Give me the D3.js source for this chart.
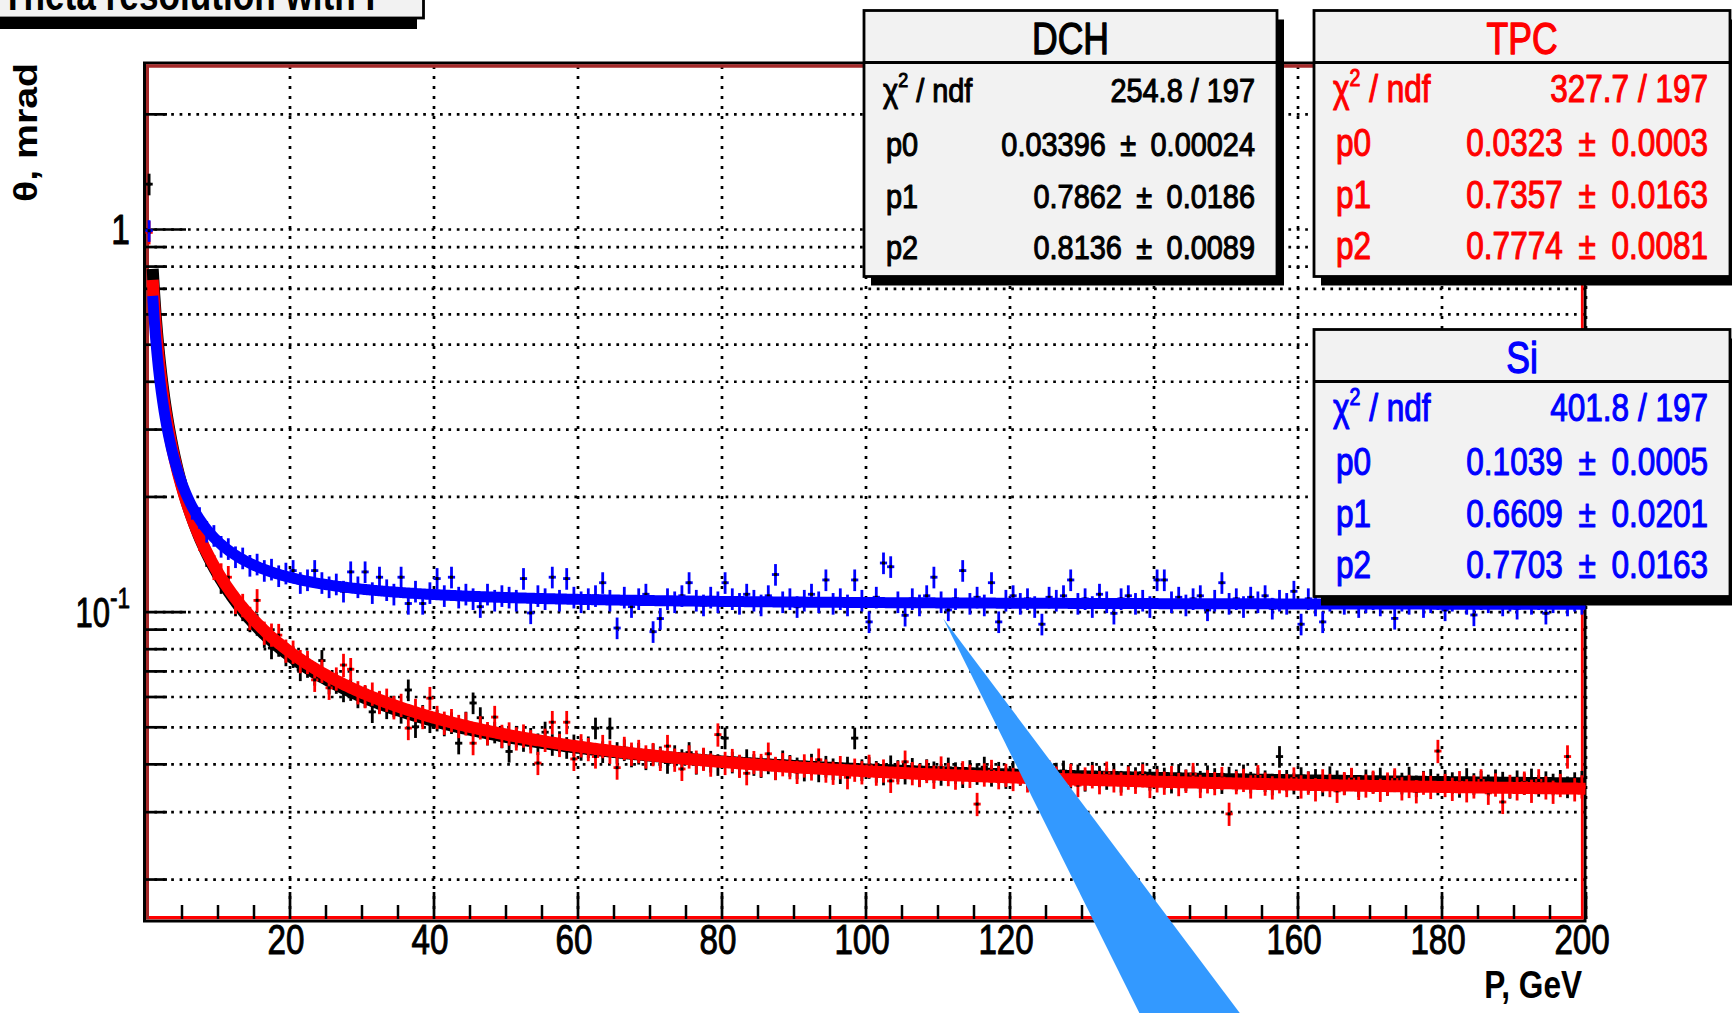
<!DOCTYPE html>
<html>
<head>
<meta charset="utf-8">
<script src="https://cdn.jsdelivr.net/npm/d3@7"></script>
<style>
  html, body { margin: 0; padding: 0; background: #ffffff; overflow: hidden; }
  svg { display: block; }
</style>
</head>
<body>
<svg id="chart" width="1732" height="1013"></svg>
<script>
// ---------------- data ----------------
// Histogram binning in momentum P (GeV): 200 bins of 1 GeV from 0 to 200
const binRange = [0, 200];
const binCount = 200;
const binCentres = d3.range(binCount).map(i => binRange[0] + (i + 0.5) * (binRange[1] - binRange[0]) / binCount);

// Polar-angle resolution per bin, mrad
const dchTheta = [
  1.31, 0.575, 0.370, 0.290, 0.232, 0.201, 0.173, 0.158, 0.140, 0.132,
  0.119, 0.115, 0.104, 0.101, 0.0945, 0.0925, 0.0860, 0.0803, 0.0815, 0.0770,
  0.0762, 0.0704, 0.0718, 0.0685, 0.0745, 0.0650, 0.0652, 0.0620, 0.0625, 0.0598,
  0.0600, 0.0547, 0.0580, 0.0560, 0.0566, 0.0545, 0.0624, 0.0500, 0.0535, 0.0515,
  0.0520, 0.0505, 0.0512, 0.0453, 0.0514, 0.0577, 0.0528, 0.0478, 0.0484, 0.0470,
  0.0431, 0.0472, 0.0460, 0.0466, 0.0451, 0.0484, 0.0449, 0.0457, 0.0441, 0.0448,
  0.0436, 0.0443, 0.0496, 0.0430, 0.0496, 0.0428, 0.0435, 0.0419, 0.0426, 0.0412,
  0.0424, 0.0417, 0.0403, 0.0420, 0.0410, 0.0428, 0.0401, 0.0412, 0.0406, 0.0398,
  0.0467, 0.0404, 0.0395, 0.0410, 0.0398, 0.0393, 0.0402, 0.0388, 0.0407, 0.0396,
  0.0390, 0.0385, 0.0399, 0.0383, 0.0394, 0.0388, 0.0379, 0.0392, 0.0467, 0.0386,
  0.0391, 0.0382, 0.0376, 0.0395, 0.0384, 0.0378, 0.0389, 0.0372, 0.0386, 0.0381,
  0.0375, 0.0390, 0.0379, 0.0370, 0.0384, 0.0377, 0.0392, 0.0373, 0.0380, 0.0368,
  0.0382, 0.0375, 0.0370, 0.0385, 0.0372, 0.0365, 0.0378, 0.0383, 0.0369, 0.0374,
  0.0362, 0.0380, 0.0371, 0.0366, 0.0377, 0.0360, 0.0373, 0.0368, 0.0379, 0.0364,
  0.0371, 0.0367, 0.0358, 0.0375, 0.0363, 0.0370, 0.0360, 0.0372, 0.0366, 0.0357,
  0.0369, 0.0363, 0.0374, 0.0358, 0.0367, 0.0361, 0.0354, 0.0418, 0.0362, 0.0356,
  0.0368, 0.0359, 0.0364, 0.0352, 0.0370, 0.0361, 0.0355, 0.0366, 0.0350, 0.0363,
  0.0358, 0.0367, 0.0353, 0.0361, 0.0356, 0.0369, 0.0350, 0.0360, 0.0364, 0.0354,
  0.0362, 0.0357, 0.0349, 0.0366, 0.0355, 0.0360, 0.0352, 0.0363, 0.0358, 0.0347,
  0.0361, 0.0355, 0.0365, 0.0351, 0.0359, 0.0354, 0.0362, 0.0348, 0.0357, 0.0360
];

const tpcTheta = [
  0.98, 0.54, 0.365, 0.277, 0.233, 0.196, 0.176, 0.155, 0.145, 0.130,
  0.125, 0.123, 0.106, 0.104, 0.0962, 0.107, 0.0880, 0.0870, 0.0868, 0.0790,
  0.0785, 0.0742, 0.0738, 0.0663, 0.0700, 0.0632, 0.0668, 0.0725, 0.0707, 0.0615,
  0.0601, 0.0610, 0.0580, 0.0588, 0.0562, 0.0570, 0.0496, 0.0553, 0.0530, 0.0594,
  0.0530, 0.0512, 0.0520, 0.0502, 0.0510, 0.0453, 0.0498, 0.0481, 0.0530, 0.0473,
  0.0480, 0.0466, 0.0474, 0.0458, 0.0402, 0.0462, 0.0514, 0.0448, 0.0514, 0.0412,
  0.0447, 0.0437, 0.0418, 0.0445, 0.0430, 0.0391, 0.0440, 0.0425, 0.0432, 0.0418,
  0.0424, 0.0412, 0.0445, 0.0410, 0.0388, 0.0418, 0.0405, 0.0412, 0.0398, 0.0477,
  0.0402, 0.0409, 0.0395, 0.0378, 0.0404, 0.0397, 0.0425, 0.0390, 0.0399, 0.0392,
  0.0381, 0.0396, 0.0389, 0.0410, 0.0384, 0.0379, 0.0392, 0.0369, 0.0386, 0.0380,
  0.0395, 0.0377, 0.0384, 0.0361, 0.0380, 0.0405, 0.0378, 0.0374, 0.0383, 0.0370,
  0.0391, 0.0376, 0.0368, 0.0380, 0.0372, 0.0314, 0.0375, 0.0383, 0.0369, 0.0374,
  0.0365, 0.0378, 0.0362, 0.0371, 0.0356, 0.0382, 0.0368, 0.0360, 0.0374, 0.0352,
  0.0366, 0.0371, 0.0358, 0.0379, 0.0362, 0.0355, 0.0368, 0.0359, 0.0373, 0.0350,
  0.0362, 0.0357, 0.0369, 0.0354, 0.0361, 0.0376, 0.0350, 0.0360, 0.0356, 0.0367,
  0.0296, 0.0358, 0.0363, 0.0349, 0.0371, 0.0355, 0.0347, 0.0360, 0.0352, 0.0366,
  0.0349, 0.0357, 0.0343, 0.0362, 0.0352, 0.0340, 0.0356, 0.0365, 0.0346, 0.0351,
  0.0359, 0.0342, 0.0355, 0.0364, 0.0345, 0.0350, 0.0339, 0.0357, 0.0348, 0.0432,
  0.0352, 0.0344, 0.0358, 0.0341, 0.0349, 0.0362, 0.0336, 0.0353, 0.0318, 0.0350,
  0.0345, 0.0357, 0.0340, 0.0362, 0.0347, 0.0338, 0.0352, 0.0418, 0.0343, 0.0349
];

const siTheta = [
  0.99, 0.50, 0.338, 0.275, 0.229, 0.208, 0.186, 0.176, 0.162, 0.158,
  0.148, 0.146, 0.139, 0.138, 0.132, 0.133, 0.128, 0.129, 0.124, 0.126,
  0.128, 0.119, 0.121, 0.128, 0.119, 0.116, 0.118, 0.113, 0.127, 0.116,
  0.127, 0.112, 0.123, 0.114, 0.111, 0.123, 0.105, 0.113, 0.105, 0.112,
  0.122, 0.110, 0.123, 0.109, 0.111, 0.108, 0.103, 0.111, 0.107, 0.110,
  0.109, 0.107, 0.122, 0.0992, 0.110, 0.108, 0.123, 0.107, 0.122, 0.109,
  0.106, 0.108, 0.110, 0.119, 0.107, 0.0906, 0.109, 0.103, 0.108, 0.111,
  0.0886, 0.0959, 0.108, 0.106, 0.110, 0.119, 0.107, 0.104, 0.109, 0.106,
  0.119, 0.108, 0.105, 0.111, 0.107, 0.104, 0.110, 0.125, 0.106, 0.108,
  0.103, 0.107, 0.111, 0.106, 0.121, 0.105, 0.108, 0.104, 0.121, 0.107,
  0.094, 0.109, 0.134, 0.131, 0.106, 0.0978, 0.108, 0.104, 0.110, 0.123,
  0.106, 0.101, 0.108, 0.128, 0.105, 0.109, 0.104, 0.119, 0.094, 0.107,
  0.110, 0.105, 0.108, 0.103, 0.0927, 0.109, 0.107, 0.110, 0.121, 0.105,
  0.108, 0.103, 0.111, 0.106, 0.099, 0.108, 0.110, 0.105, 0.107, 0.103,
  0.121, 0.121, 0.106, 0.109, 0.104, 0.108, 0.110, 0.101, 0.107, 0.119,
  0.105, 0.108, 0.103, 0.109, 0.106, 0.110, 0.102, 0.107, 0.105, 0.113,
  0.0927, 0.108, 0.104, 0.0940, 0.107, 0.110, 0.105, 0.109, 0.103, 0.106,
  0.108, 0.104, 0.110, 0.096, 0.107, 0.105, 0.109, 0.103, 0.106, 0.108,
  0.101, 0.107, 0.110, 0.105, 0.098, 0.108, 0.106, 0.111, 0.104, 0.107,
  0.102, 0.109, 0.105, 0.108, 0.099, 0.106, 0.110, 0.104, 0.107, 0.105
];

// Relative per-bin uncertainty of each detector sample
const dchRelErr = 0.065;
const tpcRelErr = 0.07;
const siRelErr = 0.065;

// Fit summaries: chi2/ndf, then p0..p2 with errors
const statLabels = ["χ2 / ndf", "p0", "p1", "p2"];
const dchStats = ["254.8 / 197", "0.03396 ± 0.00024", "0.7862 ± 0.0186", "0.8136 ± 0.0089"];
const tpcStats = ["327.7 / 197", "0.0323 ± 0.0003", "0.7357 ± 0.0163", "0.7774 ± 0.0081"];
const siStats  = ["401.8 / 197", "0.1039 ± 0.0005", "0.6609 ± 0.0201", "0.7703 ± 0.0163"];
const fitRange = [1, 200];

// Axis ticks
const xMajorTicks = [20, 40, 60, 80, 100, 120, 140, 160, 180, 200];
const xMinorTicks = [5, 10, 15, 25, 30, 35, 45, 50, 55, 65, 70, 75, 85, 90, 95, 105, 110, 115,
                     125, 130, 135, 145, 150, 155, 165, 170, 175, 185, 190, 195];
const yMajorTicks = [0.1, 1];
const yMinorTicks = [0.02, 0.03, 0.04, 0.05, 0.06, 0.07, 0.08, 0.09,
                     0.2, 0.3, 0.4, 0.5, 0.6, 0.7, 0.8, 0.9, 2];
const xDomain = [0, 200];
const yDomain = [0.01563, 2.716];

// Callout wedge pointing at the Si curve (P, theta)
const calloutWedge = [[110.8, 0.0960], [139.9, 0.00759], [154.8, 0.00759]];

// ---------------- drawing ----------------
const FONT = "'Liberation Sans', Arial, Helvetica, sans-serif";
const svg = d3.select("#chart");

const frame = { left: 146, right: 1584, top: 64, bottom: 919 };
const x = d3.scaleLinear().domain(xDomain).range([145.5, 1585.5]);
const y = d3.scaleLog().domain(yDomain).range([920, 63]);

// text helper: condensed glyphs, optional stroke to give the heavier raster look
function addText(parent, px, py, str, o) {
  const fill = o.fill || "#000";
  const t = parent.append("text")
    .attr("transform", `translate(${px},${py}) scale(${o.sx || 1},1)`)
    .attr("text-anchor", o.anchor || "start")
    .attr("font-family", FONT)
    .attr("font-size", o.size)
    .attr("font-weight", o.weight || 400)
    .attr("fill", fill)
    .text(str);
  if (o.heavy) t.attr("stroke", fill).attr("stroke-width", o.heavy).attr("stroke-linejoin", "round");
  return t;
}

// --- grid (dotted) ---
const grid = svg.append("g");
grid.append("g")
  .attr("transform", `translate(${frame.left},0)`)
  .call(d3.axisLeft(y).tickValues(yMajorTicks.concat(yMinorTicks))
        .tickSize(-(frame.right - frame.left)).tickFormat(""))
  .call(g => g.select(".domain").remove())
  .selectAll("line")
  .attr("stroke", "#000").attr("stroke-width", 2.7).attr("stroke-dasharray", "2.7 5.7");
grid.append("g")
  .attr("transform", `translate(0,${frame.bottom})`)
  .call(d3.axisBottom(x).tickValues(xMajorTicks)
        .tickSize(-(frame.bottom - frame.top)).tickFormat(""))
  .call(g => g.select(".domain").remove())
  .selectAll("line")
  .attr("stroke", "#000").attr("stroke-width", 2.7).attr("stroke-dasharray", "3 7");

// --- frame with bevelled inner edge ---
const fr = svg.append("g");
fr.append("rect")
  .attr("x", 144.5).attr("y", 63).attr("width", 1585 - 144.5).attr("height", 921 - 63)
  .attr("fill", "none").attr("stroke", "#000").attr("stroke-width", 3);
fr.append("line").attr("x1", 147.5).attr("x2", 147.5).attr("y1", 64.5).attr("y2", 919.5)
  .attr("stroke", "#a52a2a").attr("stroke-width", 3);
fr.append("line").attr("x1", 146).attr("x2", 1583.5).attr("y1", 66).attr("y2", 66)
  .attr("stroke", "#a52a2a").attr("stroke-width", 3.4);
fr.append("line").attr("x1", 149).attr("x2", 1583.5).attr("y1", 917.7).attr("y2", 917.7)
  .attr("stroke", "#ff0000").attr("stroke-width", 3.2);
fr.append("line").attr("x1", 1582.2).attr("x2", 1582.2).attr("y1", 67.7).attr("y2", 919.3)
  .attr("stroke", "#ff0000").attr("stroke-width", 2.6);

// --- axis ticks ---
function tickAxis(axis, tx, ty, w) {
  const g = svg.append("g").attr("transform", `translate(${tx},${ty})`).call(axis);
  g.select(".domain").remove();
  g.selectAll("line").attr("stroke", "#000").attr("stroke-width", w);
  return g;
}
tickAxis(d3.axisLeft(y).tickValues(yMinorTicks).tickSize(-21).tickFormat(""), frame.left, 0, 2.7);
const yMajorG = tickAxis(d3.axisLeft(y).tickValues(yMajorTicks).tickSize(-40).tickFormat(""), frame.left, 0, 2.7);
tickAxis(d3.axisBottom(x).tickValues(xMinorTicks).tickSize(-14).tickFormat(""), 0, frame.bottom, 2.5);
const xMajorG = tickAxis(d3.axisBottom(x).tickValues(xMajorTicks).tickSize(-27).tickFormat(d3.format("d")), 0, frame.bottom, 2.7);

xMajorG.selectAll("text")
  .attr("y", 35).attr("dy", 0).attr("x", -5)
  .attr("transform", "scale(0.79,1)")
  .attr("font-family", FONT).attr("font-size", 42).attr("fill", "#000")
  .attr("stroke", "#000").attr("stroke-width", 1);

// y labels: 1 and powers of ten
yMajorG.selectAll(".tick").each(function (v) {
  const g = d3.select(this);
  const e = Math.round(Math.log10(v));
  if (e === 0) {
    addText(g, -16, 14, "1", { size: 43, sx: 0.78, anchor: "end", heavy: 1 });
  } else {
    addText(g, -36, 15, "10", { size: 42, sx: 0.74, anchor: "end", heavy: 1 });
    addText(g, -36, -4, String(e), { size: 29, sx: 0.78, anchor: "start", heavy: 0.8 });
  }
});

// axis titles
addText(svg, 1582, 998, "P, GeV", { size: 39, sx: 0.81, anchor: "end", weight: 700 });
svg.append("text")
  .attr("transform", "translate(37,202) rotate(-90) scale(1.19,1)")
  .attr("font-family", FONT).attr("font-size", 33).attr("font-weight", 700)
  .attr("fill", "#000").text("θ, mrad");

// --- histograms with fits ---
svg.append("clipPath").attr("id", "plotClip")
  .append("rect").attr("x", 143).attr("y", 62).attr("width", 1587 - 143).attr("height", 923 - 62);
const plot = svg.append("g").attr("clip-path", "url(#plotClip)");

function fitFunction(stats) {
  const p = stats.slice(1).map(s => parseFloat(s));
  return P => Math.sqrt(p[0] * p[0] + Math.pow(p[1] * Math.pow(P, -p[2]), 2));
}

function drawSeries(values, relErr, stats, colour, lineW) {
  const g = plot.append("g");
  const pts = binCentres.map((c, i) => ({ c, v: values[i] }));
  g.selectAll("line.ev").data(pts).join("line")
    .attr("x1", d => x(d.c)).attr("x2", d => x(d.c))
    .attr("y1", d => y(d.v * (1 + relErr))).attr("y2", d => y(d.v * (1 - relErr)))
    .attr("stroke", colour).attr("stroke-width", 2.8);
  g.selectAll("line.eh").data(pts).join("line")
    .attr("x1", d => x(d.c - 0.5)).attr("x2", d => x(d.c + 0.5))
    .attr("y1", d => y(d.v)).attr("y2", d => y(d.v))
    .attr("stroke", colour).attr("stroke-width", 2.8);
  g.selectAll("rect").data(pts).join("rect")
    .attr("x", d => x(d.c) - 1.5).attr("y", d => y(d.v) - 1.5)
    .attr("width", 3).attr("height", 3).attr("fill", "#000");

  const f = fitFunction(stats);
  const samples = d3.range(fitRange[0], fitRange[1] + 0.001, 0.2);
  g.append("path")
    .attr("d", d3.line().x(P => x(P)).y(P => y(f(P)))(samples))
    .attr("fill", "none").attr("stroke", colour).attr("stroke-width", lineW)
    .attr("stroke-linejoin", "round");
}

drawSeries(dchTheta, dchRelErr, dchStats, "#000000", 12);
drawSeries(tpcTheta, tpcRelErr, tpcStats, "#ff0000", 12);
drawSeries(siTheta, siRelErr, siStats, "#0000ff", 11);

// --- fit statistics boxes ---
function statBox(bx, by, bw, bh, title, rows, colour, font) {
  const g = svg.append("g");
  g.append("rect").attr("x", bx + 7).attr("y", by + 9).attr("width", bw).attr("height", bh).attr("fill", "#000");
  g.append("rect").attr("x", bx).attr("y", by).attr("width", bw).attr("height", bh)
    .attr("fill", "#f2f2f2").attr("stroke", "#000").attr("stroke-width", 2.8);
  g.append("line").attr("x1", bx).attr("x2", bx + bw).attr("y1", by + 52).attr("y2", by + 52)
    .attr("stroke", "#000").attr("stroke-width", 2.8);
  addText(g, bx + bw / 2, by + 43, title, { size: 45, sx: 0.79, anchor: "middle", fill: colour, heavy: 1.3 });

  const baselines = [91, 145, 197, 248];
  rows.forEach((val, i) => {
    const yb = by + baselines[i];
    const lab = statLabels[i];
    if (i === 0) {
      const t = g.append("text")
        .attr("transform", `translate(${bx + 19},${yb}) scale(${font.sx},1)`)
        .attr("font-family", FONT).attr("font-size", font.size).attr("fill", colour)
        .attr("stroke", colour).attr("stroke-width", 1.1).attr("stroke-linejoin", "round");
      t.append("tspan").text(lab.charAt(0));
      t.append("tspan").attr("font-size", font.size * 0.62).attr("dy", -font.size * 0.42).text(lab.charAt(1));
      t.append("tspan").attr("dy", font.size * 0.42).text(lab.slice(2));
    } else {
      addText(g, bx + 22, yb, lab, { size: font.size, sx: font.sx, fill: colour, heavy: 1.1 });
    }
    addText(g, bx + bw - 22, yb, val.replace(" ± ", "\u2002±\u2002"),
      { size: font.size, sx: font.sx, anchor: "end", fill: colour, heavy: 1.1 });
  });
}

statBox(864, 10.5, 413, 266, "DCH", dchStats, "#000000", { size: 34, sx: 0.85 });
statBox(1314, 10.5, 416, 266, "TPC", tpcStats, "#ff0000", { size: 38, sx: 0.83 });
statBox(1314, 329.5, 416, 267, "Si", siStats, "#0000ff", { size: 38, sx: 0.83 });

// --- canvas title pave (runs off the top edge) ---
const tp = svg.append("g");
tp.append("rect").attr("x", -20).attr("y", 19).attr("width", 437).attr("height", 10).attr("fill", "#000");
tp.append("rect").attr("x", -10).attr("y", -40).attr("width", 433.5).attr("height", 58)
  .attr("fill", "#f2f2f2").attr("stroke", "#000").attr("stroke-width", 2.8);
addText(tp, 2, 10, "Theta resolution with P", { size: 44, sx: 0.8, weight: 700 });

// --- callout wedge ---
svg.append("path")
  .attr("d", d3.line().x(d => x(d[0])).y(d => y(d[1]))(calloutWedge) + "Z")
  .attr("fill", "#3399ff");
</script>
</body>
</html>
